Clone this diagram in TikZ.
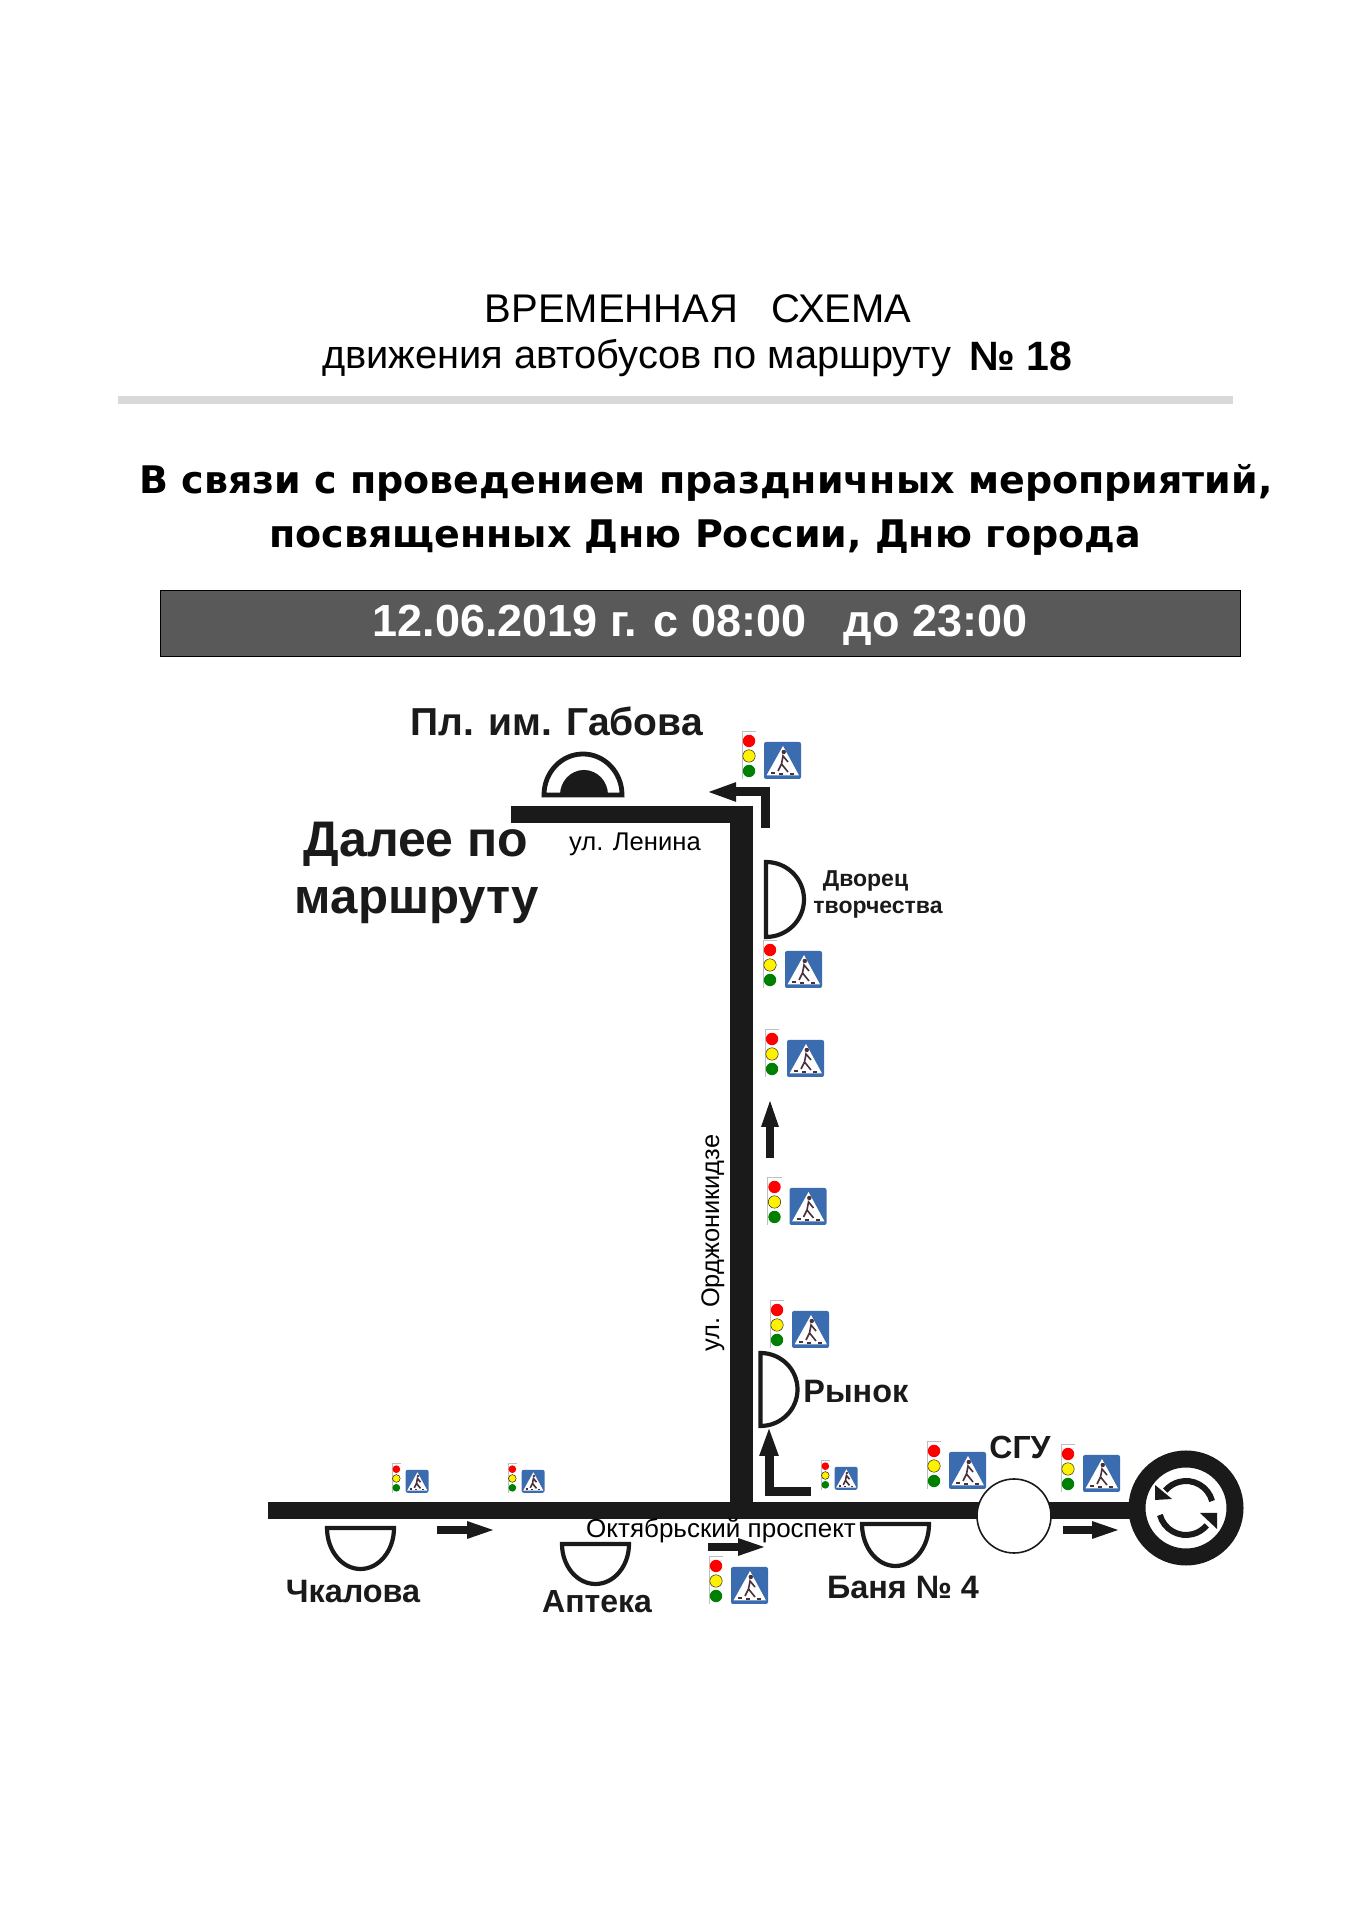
\documentclass[tikz,border=0pt]{standalone}
\usepackage{fontspec}
\setmainfont{Liberation Sans}
\newfontfamily\widefont{DejaVu Sans}
\usetikzlibrary{arrows.meta}
\definecolor{roadblack}{HTML}{1A1A1A}
\definecolor{signblue}{HTML}{3C6CB0}
\definecolor{walker}{HTML}{4A3038}
\newcommand{\fsize}[1]{\fontsize{#1}{#1}\selectfont}
\tikzset{
  road/.style={color=roadblack,line width=8.5pt},
  flow/.style={color=roadblack,line width=4pt,-{Triangle[length=15pt,width=7.5pt]}},
  elbow/.style={color=roadblack,line width=4.5pt,-{Triangle[length=15pt,width=8.5pt]}},
  stopline/.style={color=roadblack,line width=2.1pt,fill=white,line join=miter},
  stopname/.style={font=\bfseries\fsize{16.2},text=roadblack,anchor=base,inner sep=0pt},
  crossing/.pic={
    \draw[gray!50,line width=.3pt] (14,0) -- (0,0) -- (0,-48);
    \fill[red] (7,-10) circle (6.2);
    \draw[fill=yellow,line width=.2pt] (7,-25) circle (6.2);
    \fill[green!50!black] (7,-40) circle (6.2);
    \fill[signblue,rounded corners=1] (22,-11) rectangle (59,-48);
    \fill[white] (41,-15) -- (57,-44.5) -- (24.5,-44.5) -- cycle;
    \fill[walker] (41.8,-21) circle (2.2);
    \draw[walker,line width=.8pt] (46,-31) -- (41,-25) -- (39.5,-33) -- (36,-40) (39.5,-33) -- (46,-41);
    \draw[walker,line width=.6pt] (29,-42) -- (33,-42) (37,-43) -- (41,-43) (48,-43) -- (52,-43);
  }
}
\begin{document}
\begin{tikzpicture}[x=.5pt,y=.5pt]
\useasboundingbox[fill=white] (0,0) rectangle (1357,1920);
% header
\node[font=\fsize{20},anchor=base,inner sep=0pt] (title)at(698,1597) {ВРЕМЕННАЯ\ \ \ СХЕМА};
\node[font=\fsize{19.9},anchor=base west,inner sep=0pt] (subtitle)at(322,1551) {движения автобусов по маршруту};
\node[font=\bfseries\fsize{20.5},anchor=base west,inner sep=0pt] (routeno)at(969,1549) {№ 18};
\draw[color=black!15,line width=4pt] (118,1520) coordinate (rulel) -- (1233,1520) coordinate (ruler);
\node[font=\widefont\bfseries\fsize{19},anchor=base,inner sep=0pt] (noticea)at(706,1426.5) {В связи с проведением праздничных мероприятий,};
\node[font=\widefont\bfseries\fsize{19},anchor=base,inner sep=0pt] (noticeb)at(705,1372) {посвященных Дню России, Дню города};
\draw[fill=black!65,line width=.5pt] (160,1263.5) rectangle (1240,1329.5);
\node[font=\bfseries\fsize{22.5},text=white,anchor=base,inner sep=0pt] (dates)at(700,1283) {12.06.2019 г. с 08:00\ \ \ до 23:00};
% roads
\coordinate (west)at(268,409.5);
\coordinate (cross)at(741,409.5);
\coordinate (corner)at(741,1105);
\coordinate (lenin)at(511,1105);
\coordinate (leninend)at(752.5,1105);
\coordinate (ringc)at(1186,412);
\draw[road] (west) -- (ringc |- west);
\draw[color=roadblack,line width=11.5pt] (cross) -- (corner);
\draw[road] (lenin) -- (leninend);
\node[circle,draw=roadblack,fill=white,line width=8.5pt,minimum size=49pt] (ring)at(ringc) {};
\node[circle,draw=roadblack,fill=white,line width=.8pt,minimum size=37pt] (sgu)at(1014,404) {};
% turning arrows in the ring
\begin{scope}[shift={(ring.center)}]
\draw[color=roadblack,line width=3pt] (15:27) arc[start angle=15,end angle=140,radius=27];
\draw[color=roadblack,line width=3pt] (195:27) arc[start angle=195,end angle=320,radius=27];
\fill[roadblack] (-31,23) -- (-14,9) -- (-31,8) -- cycle;
\fill[roadblack] (31,-5) -- (14,-5) -- (31,-21) -- cycle;
\end{scope}
% stops
\draw[stopline] (327,392) arc[start angle=180,end angle=360,x radius=33.5,y radius=41] -- cycle;
\draw[stopline] (562,376) arc[start angle=180,end angle=360,x radius=33.5,y radius=40] -- cycle;
\draw[stopline] (862,396) arc[start angle=180,end angle=360,x radius=33.5,y radius=42] -- cycle;
\draw[stopline] (760.5,567) arc[start angle=90,end angle=-90,x radius=37,y radius=36.5] -- cycle;
\draw[stopline] (766,1058) arc[start angle=90,end angle=-90,x radius=38,y radius=37.5] -- cycle;
\draw[stopline,line width=2.4pt] (544,1125) arc[start angle=180,end angle=0,x radius=39,y radius=41] -- cycle;
\fill[roadblack] (560,1125) arc[start angle=180,end angle=0,x radius=24,y radius=25] -- cycle;
% direction arrows
\coordinate (fa)at(437,390);
\coordinate (fb)at(497,390);
\coordinate (fc)at(708,373);
\coordinate (fd)at(768,373);
\coordinate (fe)at(1063,390);
\coordinate (ff)at(1122,390);
\coordinate (fg)at(770,762);
\coordinate (fh)at(770,823);
\coordinate (fi)at(811,428);
\coordinate (fj)at(769,494);
\coordinate (fk)at(765,1092);
\coordinate (fl)at(706,1128);
\draw[flow] (fa) -- (fb);
\draw[flow] (fc) -- (fd);
\draw[flow] (fe) -- (ff);
\draw[flow] (fg) -- (fh);
\draw[elbow] (fi) -| (fj);
\draw[elbow] (fk) |- (fl);
% lights and crossings
\foreach \px/\py in {742/1189,763/980,765/891,767.5/743,770/620,927/479,1061/476,709/364}
  \pic at (\px,\py) {crossing};
\foreach \px/\py in {821/460,392/457,508/457}
  \pic[scale=.62] at (\px,\py) {crossing};
% labels
\node[stopname,font=\bfseries\fsize{19.5}] (gabova)at(556.5,1184) {Пл. им. Габова};
\node[stopname,font=\bfseries\fsize{25}] (furthera)at(416,1063) {Далее по};
\node[stopname,font=\bfseries\fsize{24.6}] (furtherb)at(417,1006) {маршруту};
\node[font=\fsize{12.8},anchor=base,inner sep=0pt] (leninst)at(635,1069) {ул. Ленина};
\node[stopname,font=\bfseries\fsize{11.5}] (palacea)at(865.5,1033.5) {Дворец};
\node[stopname,font=\bfseries\fsize{11.5}] (palaceb)at(878,1006.5) {творчества};
\node[stopname,anchor=base west] (market)at(803,517) {Рынок};
\node[font=\fsize{12.7},anchor=base,inner sep=0pt,rotate=90] (ordzh)at(719,677) {ул. Орджоникидзе};
\node[font=\fsize{13},anchor=base,inner sep=0pt] (oktyabr)at(721,382) {Октябрьский проспект};
\node[stopname] (chkalova)at(353,317) {Чкалова};
\node[stopname,font=\bfseries\fsize{16}] (apteka)at(597,307.5) {Аптека};
\node[stopname] (banya)at(903,321) {Баня № 4};
\node[stopname,font=\bfseries\fsize{16}] (sgulabel)at(1020,461.5) {СГУ};
\end{tikzpicture}
\end{document}
